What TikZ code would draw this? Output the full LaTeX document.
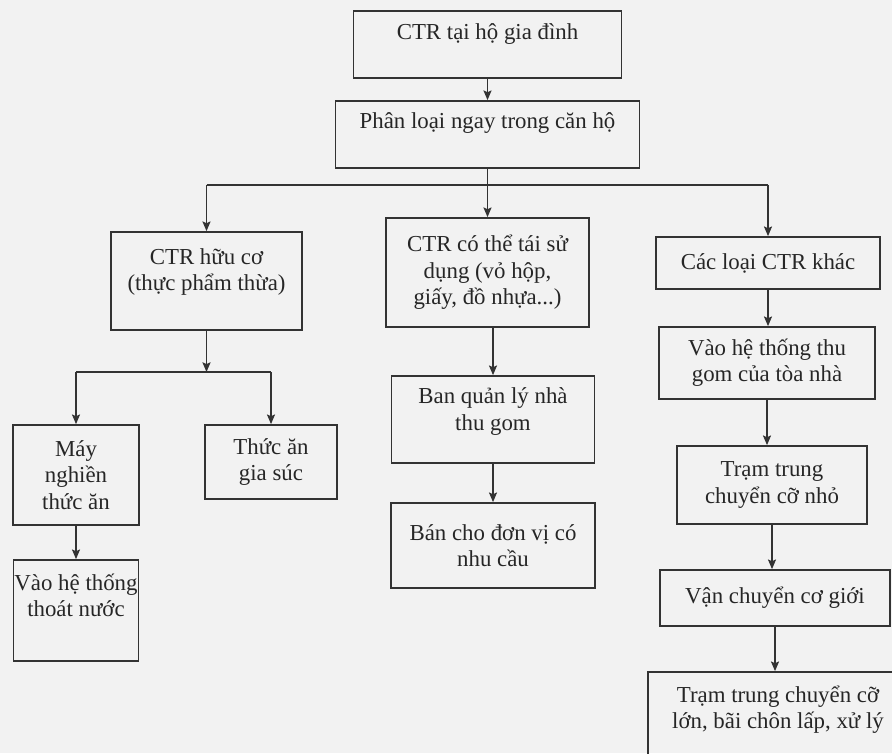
\documentclass[tikz,border=0pt]{standalone}
\usepackage{fontspec}
\setmainfont{Liberation Serif}
\usetikzlibrary{arrows.meta}
\begin{document}
\begin{tikzpicture}[
    x=1cm, y=1cm,
    >={Stealth[length=5.5pt, width=4.6pt, inset=1pt]},
    every node/.style={font=\fontsize{13}{15}\selectfont, text=black!85},
    stage/.style={
        draw=black!80,
        line width=1pt,
        align=center,
        inner xsep=0.5pt,
        inner ysep=1pt
    },
    flow/.style={
        ->,
        draw=black!80,
        line width=0.8pt
    }
]

    % Paper
    \path[use as bounding box, fill=black!5] (0,0) rectangle (17.84,15.06);
    \clip (0,0) rectangle (17.84,15.06);

    % Top of the chain
    \node[
        stage,
        minimum width=5.36cm,
        minimum height=1.34cm,
        text depth=0.5cm
    ] (home) at (9.75,14.17) {CTR tại hộ gia đình};

    \node[
        stage,
        minimum width=6.08cm,
        minimum height=1.34cm,
        text depth=0.54cm
    ] (sort) at (9.75,12.37) {Phân loại ngay trong căn hộ};

    % Three kinds of waste
    \node[
        stage,
        minimum width=3.82cm,
        minimum height=1.96cm,
        text depth=0.46cm
    ] (organic) at (4.13,9.44) {CTR hữu cơ\\(thực phẩm thừa)};

    \node[
        stage,
        minimum width=4.06cm,
        minimum height=2.18cm
    ] (reuse) at (9.75,9.61) {CTR có thể tái sử\\dụng (vỏ hộp,\\giấy, đồ nhựa...)};

    \node[
        stage,
        minimum width=4.48cm,
        minimum height=1.04cm
    ] (other) at (15.36,9.80) {Các loại CTR khác};

    % Organic branch
    \node[
        stage,
        minimum width=2.52cm,
        minimum height=2.0cm
    ] (grinder) at (1.52,5.56) {Máy\\nghiền\\thức ăn};

    \node[
        stage,
        minimum width=2.64cm,
        minimum height=1.48cm
    ] (feed) at (5.42,5.82) {Thức ăn\\gia súc};

    \node[
        stage,
        minimum width=2.5cm,
        minimum height=2.02cm,
        text depth=0.62cm
    ] (drain) at (1.52,2.85) {Vào hệ thống\\thoát nước};

    % Reusable branch
    \node[
        stage,
        minimum width=4.06cm,
        minimum height=1.74cm,
        text depth=0.42cm
    ] (manage) at (9.86,6.67) {Ban quản lý nhà\\thu gom};

    \node[
        stage,
        minimum width=4.08cm,
        minimum height=1.7cm
    ] (sell) at (9.86,4.15) {Bán cho đơn vị có\\nhu cầu};

    % Other waste branch
    \node[
        stage,
        minimum width=4.32cm,
        minimum height=1.44cm
    ] (collect) at (15.34,7.80) {Vào hệ thống thu\\gom của tòa nhà};

    \node[
        stage,
        minimum width=3.8cm,
        minimum height=1.56cm
    ] (smallst) at (15.44,5.36) {Trạm trung\\chuyển cỡ nhỏ};

    \node[
        stage,
        minimum width=4.6cm,
        minimum height=1.12cm
    ] (transport) at (15.5,3.10) {Vận chuyển cơ giới};

    \node[
        stage,
        minimum width=5.2cm,
        minimum height=2.36cm,
        text depth=0.94cm
    ] (bigst) at (15.56,0.44) {Trạm trung chuyển cỡ\\lớn, bãi chôn lấp, xử lý};

    % Split points
    \coordinate (split) at (9.75,11.36);
    \coordinate (fork) at (4.13,7.62);

    % Arrows of the main chain
    \draw[flow] (home.south) -- (home.south |- sort.north);
    \draw[flow] (sort.south) -- (reuse.north);
    \draw[flow, -] (split -| organic.north) -- (split -| other.north);
    \draw[flow] (split -| organic.north) -- (organic.north);
    \draw[flow] (split -| other.north) -- (other.north);

    % Arrows of the organic branch
    \draw[flow] (organic.south) -- (fork);
    \draw[flow, -] (fork -| grinder.north) -- (fork -| feed.north);
    \draw[flow] (fork -| grinder.north) -- (grinder.north);
    \draw[flow] (fork -| feed.north) -- (feed.north);
    \draw[flow] (grinder.south) -- (drain.north);

    % Arrows of the reusable branch
    \draw[flow] (manage.north |- reuse.south) -- (manage.north);
    \draw[flow] (manage.south) -- (sell.north);

    % Arrows of the other branch
    \draw[flow] (other.south) -- (other.south |- collect.north);
    \draw[flow] (collect.south) -- (collect.south |- smallst.north);
    \draw[flow] (smallst.south) -- (smallst.south |- transport.north);
    \draw[flow] (transport.south) -- (transport.south |- bigst.north);

\end{tikzpicture}
\end{document}
